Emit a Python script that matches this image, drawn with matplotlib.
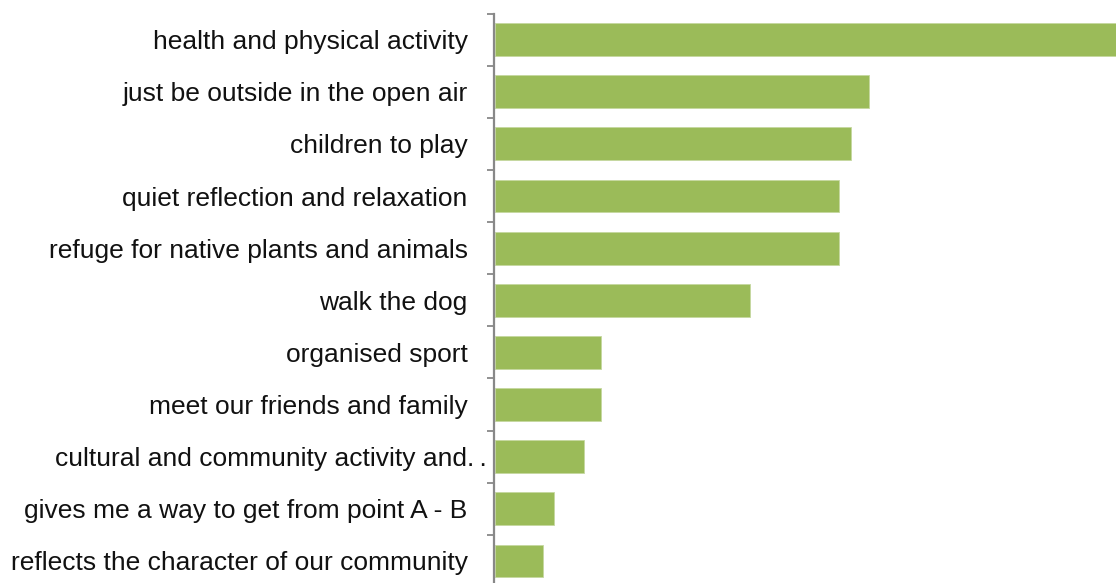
import numpy as np
import matplotlib
matplotlib.use('Agg')
import matplotlib.pyplot as plt
import matplotlib.transforms as mtransforms

# values (relative scale)
labels = ['health and physical activity', 'just be outside in the open air', 'children to play',
          'quiet reflection and relaxation', 'refuge for native plants and animals', 'walk the dog',
          'organised sport', 'meet our friends and family', 'cultural and community activity and.\u2009.',
          'gives me a way to get from point A - B', 'reflects the character of our community']
values = [52.4, 31.45, 29.95, 28.95, 28.95, 21.45, 8.95, 8.95, 7.45, 4.95, 4.0]

plt.rcParams['font.family'] = ['Liberation Sans', 'DejaVu Sans']

fig = plt.figure(figsize=(11.16, 5.83), dpi=100)
ax = fig.add_axes([494 / 1116, -0.0069, 1 - 494 / 1116, 0.9768 + 0.0069])

y = np.arange(len(labels))
ax.barh(y, values, height=0.63, color='#9BBB59', edgecolor='#c5d8a0', linewidth=0.6, left=0.1)
ax.set_ylim(len(labels) - 0.5, -0.5)
ax.set_xlim(0, 52.4)

ax.set_yticks(y)
ax.set_yticklabels(labels, fontsize=19, color='#111111')
ax.tick_params(axis='y', which='major', length=0, pad=19)
ax.set_yticks(np.arange(-0.5, len(labels)), minor=True)
ax.tick_params(axis='y', which='minor', length=5, width=1.3, color='#888888', direction='out')

# the truncated label overflows towards the axis, as in the original
lab = ax.get_yticklabels()[8]
lab.set_transform(lab.get_transform() + mtransforms.ScaledTranslation(19 / 100, 0, fig.dpi_scale_trans))

ax.set_xticks([])
for s in ['top', 'right', 'bottom']:
    ax.spines[s].set_visible(False)
ax.spines['left'].set_color('#888888')
ax.spines['left'].set_linewidth(1.6)

plt.savefig('out.png', dpi=100)
plt.close()
